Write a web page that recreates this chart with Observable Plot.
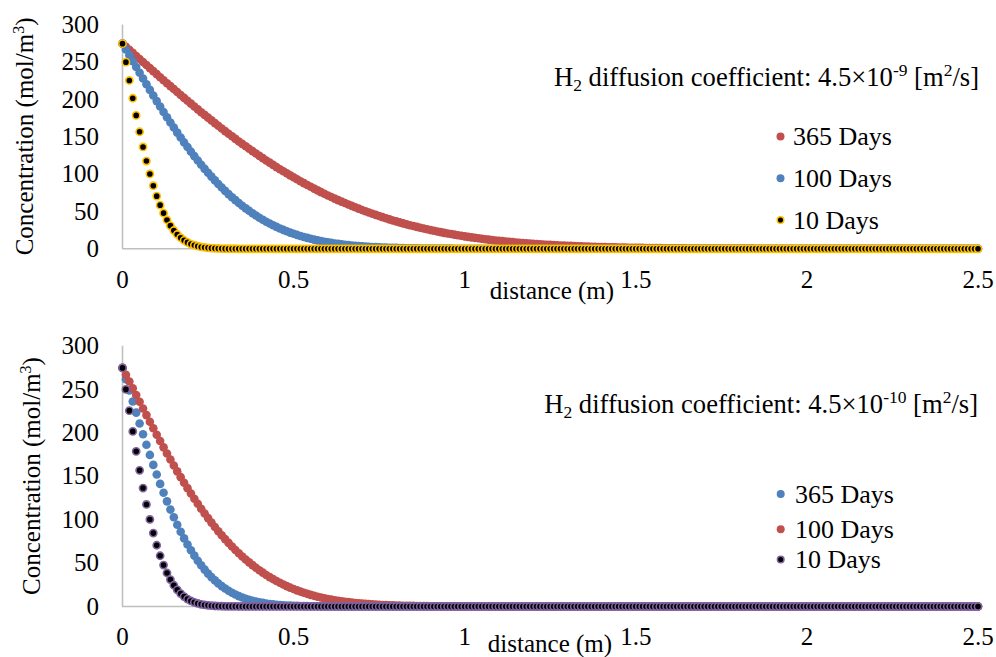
<!DOCTYPE html>
<html>
<head>
<meta charset="utf-8">
<script src="https://cdn.jsdelivr.net/npm/d3@7"></script>
<script src="https://cdn.jsdelivr.net/npm/@observablehq/plot@0.6"></script>
<style>
  html, body { margin: 0; padding: 0; background: #fff; }
  #wrap { position: relative; width: 996px; height: 657px; overflow: hidden; background: #fff; }
  .panel { position: absolute; left: 0; }
  #overlay { position: absolute; left: 0; top: 0; pointer-events: none; }
  #wrap text { font-family: 'Liberation Serif', 'Times New Roman', serif; }
</style>
</head>
<body>
<div id="wrap">
  <div class="panel" id="p1" style="top:0px"></div>
  <div class="panel" id="p2" style="top:320px"></div>
</div>
<script>
// ---------- data ----------
const distance = [
0,0.01,0.02,0.03,0.04,0.05,0.06,0.07,0.08,0.09,
0.1,0.11,0.12,0.13,0.14,0.15,0.16,0.17,0.18,0.19,
0.2,0.21,0.22,0.23,0.24,0.25,0.26,0.27,0.28,0.29,
0.3,0.31,0.32,0.33,0.34,0.35,0.36,0.37,0.38,0.39,
0.4,0.41,0.42,0.43,0.44,0.45,0.46,0.47,0.48,0.49,
0.5,0.51,0.52,0.53,0.54,0.55,0.56,0.57,0.58,0.59,
0.6,0.61,0.62,0.63,0.64,0.65,0.66,0.67,0.68,0.69,
0.7,0.71,0.72,0.73,0.74,0.75,0.76,0.77,0.78,0.79,
0.8,0.81,0.82,0.83,0.84,0.85,0.86,0.87,0.88,0.89,
0.9,0.91,0.92,0.93,0.94,0.95,0.96,0.97,0.98,0.99,
1,1.01,1.02,1.03,1.04,1.05,1.06,1.07,1.08,1.09,
1.1,1.11,1.12,1.13,1.14,1.15,1.16,1.17,1.18,1.19,
1.2,1.21,1.22,1.23,1.24,1.25,1.26,1.27,1.28,1.29,
1.3,1.31,1.32,1.33,1.34,1.35,1.36,1.37,1.38,1.39,
1.4,1.41,1.42,1.43,1.44,1.45,1.46,1.47,1.48,1.49,
1.5,1.51,1.52,1.53,1.54,1.55,1.56,1.57,1.58,1.59,
1.6,1.61,1.62,1.63,1.64,1.65,1.66,1.67,1.68,1.69,
1.7,1.71,1.72,1.73,1.74,1.75,1.76,1.77,1.78,1.79,
1.8,1.81,1.82,1.83,1.84,1.85,1.86,1.87,1.88,1.89,
1.9,1.91,1.92,1.93,1.94,1.95,1.96,1.97,1.98,1.99,
2,2.01,2.02,2.03,2.04,2.05,2.06,2.07,2.08,2.09,
2.1,2.11,2.12,2.13,2.14,2.15,2.16,2.17,2.18,2.19,
2.2,2.21,2.22,2.23,2.24,2.25,2.26,2.27,2.28,2.29,
2.3,2.31,2.32,2.33,2.34,2.35,2.36,2.37,2.38,2.39,
2.4,2.41,2.42,2.43,2.44,2.45,2.46,2.47,2.48,2.49,
2.5
];

// Top panel (D = 4.5e-9)
const top365Days = [
275,270.9,266.8,262.7,258.5,254.5,250.4,246.3,242.2,238.2,
234.1,230.0,226.0,222.0,218.1,214.1,210.2,206.2,202.3,198.4,
194.6,190.7,186.9,183.1,179.5,175.8,172.1,168.5,164.9,161.3,
157.7,154.2,150.8,147.3,143.9,140.6,137.4,134.1,130.9,127.8,
124.6,121.5,118.4,115.5,112.5,109.5,106.7,104.0,101.2,98.4,
95.8,93.2,90.6,88.0,85.5,83.1,80.7,78.3,76.0,73.8,
71.5,69.4,67.3,65.3,63.2,61.3,59.4,57.5,55.6,53.8,
52.1,50.3,48.6,47.0,45.5,43.9,42.4,40.9,39.4,38.0,
36.7,35.4,34.1,32.8,31.6,30.5,29.4,28.2,27.2,26.2,
25.1,24.2,23.2,22.3,21.4,20.6,19.8,19.0,18.2,17.5,
16.7,16.0,15.3,14.7,14.1,13.4,12.8,12.3,11.8,11.2,
10.8,10.3,9.8,9.3,8.9,8.5,8.1,7.7,7.4,7.0,
6.7,6.4,6.1,5.8,5.5,5.2,5.0,4.8,4.5,4.3,
4.1,3.9,3.7,3.5,3.3,3.1,2.9,2.8,2.6,2.5,
2.3,2.2,2.1,2.0,1.9,1.8,1.7,1.6,1.5,1.4,
1.3,1.3,1.2,1.1,1.1,1.0,1.0,0.9,0.8,0.8,
0.7,0.7,0.7,0.6,0.6,0.5,0.5,0.5,0.4,0.4,
0.4,0.4,0.3,0.3,0.3,0.3,0.3,0.2,0.2,0.2,
0.2,0.2,0.2,0.2,0.2,0.1,0.1,0.1,0.1,0.1,
0.1,0.1,0.1,0.1,0.1,0.1,0,0,0,0,
0,0,0,0,0,0,0,0,0,0,
0,0,0,0,0,0,0,0,0,0,
0,0,0,0,0,0,0,0,0,0,
0,0,0,0,0,0,0,0,0,0,
0,0,0,0,0,0,0,0,0,0,
0
];
const top100Days = [
275,267.1,259.3,251.5,243.7,235.9,228.2,220.6,213.0,205.5,
198.0,190.7,183.4,176.4,169.4,162.5,155.7,149.1,142.6,136.4,
130.2,124.2,118.4,112.7,107.1,101.9,96.7,91.7,86.8,82.1,
77.6,73.3,69.1,65.2,61.4,57.7,54.2,50.9,47.7,44.6,
41.7,39.0,36.3,33.9,31.6,29.4,27.3,25.4,23.5,21.7,
20.1,18.6,17.2,15.8,14.6,13.4,12.3,11.3,10.4,9.4,
8.7,7.9,7.2,6.6,6.0,5.4,5.0,4.5,4.1,3.7,
3.4,3.0,2.7,2.4,2.2,2.0,1.8,1.6,1.4,1.3,
1.2,1.0,0.9,0.8,0.7,0.7,0.6,0.5,0.4,0.4,
0.3,0.3,0.3,0.2,0.2,0.2,0.2,0.1,0.1,0.1,
0.1,0.1,0.1,0,0,0,0,0,0,0,
0,0,0,0,0,0,0,0,0,0,
0,0,0,0,0,0,0,0,0,0,
0,0,0,0,0,0,0,0,0,0,
0,0,0,0,0,0,0,0,0,0,
0,0,0,0,0,0,0,0,0,0,
0,0,0,0,0,0,0,0,0,0,
0,0,0,0,0,0,0,0,0,0,
0,0,0,0,0,0,0,0,0,0,
0,0,0,0,0,0,0,0,0,0,
0,0,0,0,0,0,0,0,0,0,
0,0,0,0,0,0,0,0,0,0,
0,0,0,0,0,0,0,0,0,0,
0,0,0,0,0,0,0,0,0,0,
0,0,0,0,0,0,0,0,0,0,
0
];
const top10Days = [
275,250.2,225.7,201.8,178.8,156.9,136.5,117.6,100.3,84.6,
70.6,58.5,47.8,38.6,31.0,24.5,19.2,14.9,11.4,8.6,
6.4,4.8,3.5,2.5,1.8,1.3,0.9,0.6,0.4,0.3,
0.2,0.1,0.1,0.1,0,0,0,0,0,0,
0,0,0,0,0,0,0,0,0,0,
0,0,0,0,0,0,0,0,0,0,
0,0,0,0,0,0,0,0,0,0,
0,0,0,0,0,0,0,0,0,0,
0,0,0,0,0,0,0,0,0,0,
0,0,0,0,0,0,0,0,0,0,
0,0,0,0,0,0,0,0,0,0,
0,0,0,0,0,0,0,0,0,0,
0,0,0,0,0,0,0,0,0,0,
0,0,0,0,0,0,0,0,0,0,
0,0,0,0,0,0,0,0,0,0,
0,0,0,0,0,0,0,0,0,0,
0,0,0,0,0,0,0,0,0,0,
0,0,0,0,0,0,0,0,0,0,
0,0,0,0,0,0,0,0,0,0,
0,0,0,0,0,0,0,0,0,0,
0,0,0,0,0,0,0,0,0,0,
0,0,0,0,0,0,0,0,0,0,
0,0,0,0,0,0,0,0,0,0,
0,0,0,0,0,0,0,0,0,0,
0,0,0,0,0,0,0,0,0,0,
0
];

// Bottom panel (D = 4.5e-10)
const bottom365Days = [
275,262.0,249.0,236.2,223.4,210.9,198.5,186.4,174.7,163.2,
152.1,141.3,131.1,121.2,111.7,102.8,94.3,86.1,78.5,71.4,
64.8,58.6,52.8,47.5,42.5,37.9,33.8,30.1,26.6,23.5,
20.7,18.2,15.9,13.8,12.0,10.4,9.0,7.7,6.6,5.7,
4.9,4.2,3.5,2.9,2.4,2.1,1.8,1.5,1.2,1.0,
0.8,0.7,0.6,0.5,0.4,0.3,0.3,0.2,0.2,0.1,
0.1,0.1,0.1,0,0,0,0,0,0,0,
0,0,0,0,0,0,0,0,0,0,
0,0,0,0,0,0,0,0,0,0,
0,0,0,0,0,0,0,0,0,0,
0,0,0,0,0,0,0,0,0,0,
0,0,0,0,0,0,0,0,0,0,
0,0,0,0,0,0,0,0,0,0,
0,0,0,0,0,0,0,0,0,0,
0,0,0,0,0,0,0,0,0,0,
0,0,0,0,0,0,0,0,0,0,
0,0,0,0,0,0,0,0,0,0,
0,0,0,0,0,0,0,0,0,0,
0,0,0,0,0,0,0,0,0,0,
0,0,0,0,0,0,0,0,0,0,
0,0,0,0,0,0,0,0,0,0,
0,0,0,0,0,0,0,0,0,0,
0,0,0,0,0,0,0,0,0,0,
0,0,0,0,0,0,0,0,0,0,
0,0,0,0,0,0,0,0,0,0,
0
];
const bottom100Days = [
275,267.1,259.3,251.5,243.7,235.9,228.2,220.6,213.0,205.5,
198.0,190.7,183.4,176.4,169.4,162.5,155.7,149.1,142.6,136.4,
130.2,124.2,118.4,112.7,107.1,101.9,96.7,91.7,86.8,82.1,
77.6,73.3,69.1,65.2,61.4,57.7,54.2,50.9,47.7,44.6,
41.7,39.0,36.3,33.9,31.6,29.4,27.3,25.4,23.5,21.7,
20.1,18.6,17.2,15.8,14.6,13.4,12.3,11.3,10.4,9.4,
8.7,7.9,7.2,6.6,6.0,5.4,5.0,4.5,4.1,3.7,
3.4,3.0,2.7,2.4,2.2,2.0,1.8,1.6,1.4,1.3,
1.2,1.0,0.9,0.8,0.7,0.7,0.6,0.5,0.4,0.4,
0.3,0.3,0.3,0.2,0.2,0.2,0.2,0.1,0.1,0.1,
0.1,0.1,0.1,0,0,0,0,0,0,0,
0,0,0,0,0,0,0,0,0,0,
0,0,0,0,0,0,0,0,0,0,
0,0,0,0,0,0,0,0,0,0,
0,0,0,0,0,0,0,0,0,0,
0,0,0,0,0,0,0,0,0,0,
0,0,0,0,0,0,0,0,0,0,
0,0,0,0,0,0,0,0,0,0,
0,0,0,0,0,0,0,0,0,0,
0,0,0,0,0,0,0,0,0,0,
0,0,0,0,0,0,0,0,0,0,
0,0,0,0,0,0,0,0,0,0,
0,0,0,0,0,0,0,0,0,0,
0,0,0,0,0,0,0,0,0,0,
0,0,0,0,0,0,0,0,0,0,
0
];
const bottom10Days = [
275,250.2,225.7,201.8,178.8,156.9,136.5,117.6,100.3,84.6,
70.6,58.5,47.8,38.6,31.0,24.5,19.2,14.9,11.4,8.6,
6.4,4.8,3.5,2.5,1.8,1.3,0.9,0.6,0.4,0.3,
0.2,0.1,0.1,0.1,0,0,0,0,0,0,
0,0,0,0,0,0,0,0,0,0,
0,0,0,0,0,0,0,0,0,0,
0,0,0,0,0,0,0,0,0,0,
0,0,0,0,0,0,0,0,0,0,
0,0,0,0,0,0,0,0,0,0,
0,0,0,0,0,0,0,0,0,0,
0,0,0,0,0,0,0,0,0,0,
0,0,0,0,0,0,0,0,0,0,
0,0,0,0,0,0,0,0,0,0,
0,0,0,0,0,0,0,0,0,0,
0,0,0,0,0,0,0,0,0,0,
0,0,0,0,0,0,0,0,0,0,
0,0,0,0,0,0,0,0,0,0,
0,0,0,0,0,0,0,0,0,0,
0,0,0,0,0,0,0,0,0,0,
0,0,0,0,0,0,0,0,0,0,
0,0,0,0,0,0,0,0,0,0,
0,0,0,0,0,0,0,0,0,0,
0,0,0,0,0,0,0,0,0,0,
0,0,0,0,0,0,0,0,0,0,
0,0,0,0,0,0,0,0,0,0,
0
];

const xTicks = [0, 0.5, 1, 1.5, 2, 2.5];
const xTickLabels = ["0", "0.5", "1", "1.5", "2", "2.5"];
const yTicks = [0, 50, 100, 150, 200, 250, 300];
const yTickLabels = ["0", "50", "100", "150", "200", "250", "300"];

const topLegend = ["365 Days", "100 Days", "10 Days"];
const bottomLegend = ["365 Days", "100 Days", "10 Days"];

// ---------- styles ----------
const RED = "#C0504D", BLUE = "#4F81BD", GOLD = "#FFC000", PURPLE = "#8064A2", AXIS = "#BFBFBF";
const FONT = "'Liberation Serif', 'Times New Roman', serif";
const SOLID_R = 4.3, RING_R = 3.6, RING_W = 1.6;

[top365Days, top100Days, top10Days, bottom365Days, bottom100Days, bottom10Days].forEach((a, k) => {
  if (a.length !== distance.length) console.error("length mismatch in series " + k + ": " + a.length);
});

function panel(el, series, height, mt, mb) {
  const marks = [
    Plot.ruleY([0], {stroke: AXIS, strokeWidth: 1.6}),
    Plot.ruleX([0], {stroke: AXIS, strokeWidth: 1.6}),
    Plot.axisX({ticks: xTicks, tickFormat: d => xTickLabels[xTicks.indexOf(d)], tickSize: 0, tickPadding: 21, label: null, fontFamily: FONT}),
    Plot.axisY({ticks: yTicks, tickFormat: d => yTickLabels[yTicks.indexOf(d)], tickSize: 0, tickPadding: 23.5, label: null, fontFamily: FONT})
  ];
  for (const s of series) {
    const rows = distance.map((d, i) => ({d, c: s.values[i]}));
    const opts = {x: "d", y: "c", r: s.r, fill: s.fill};
    if (s.stroke) { opts.stroke = s.stroke; opts.strokeWidth = s.sw; }
    marks.push(Plot.dot(rows, opts));
  }
  const svg = Plot.plot({
    width: 996, height,
    marginLeft: 122, marginRight: 18.5, marginTop: mt, marginBottom: mb,
    x: {domain: [0, 2.5]},
    y: {domain: [0, 300]},
    style: {fontSize: "25px", fontFamily: FONT, color: "#000", background: "transparent", overflow: "visible"},
    marks
  });
  document.getElementById(el).appendChild(svg);
}

panel("p1", [
  {values: top365Days, fill: RED, r: SOLID_R},
  {values: top100Days, fill: BLUE, r: SOLID_R},
  {values: top10Days, fill: "#000", stroke: GOLD, sw: RING_W, r: RING_R}
], 300, 24.5, 51.7);

panel("p2", [
  {values: bottom365Days, fill: BLUE, r: SOLID_R},
  {values: bottom100Days, fill: RED, r: SOLID_R},
  {values: bottom10Days, fill: "#000", stroke: PURPLE, sw: RING_W, r: RING_R}
], 337, 25.7, 51);

// ---------- text overlay: axis titles, annotations, legends ----------
const ov = d3.select("#wrap").append("svg").attr("id", "overlay")
  .attr("width", 996).attr("height", 657)
  .style("font-family", FONT).style("fill", "#000");

function yTitle(x, y) {
  const t = ov.append("text").attr("transform", `translate(${x},${y}) rotate(-90)`)
    .attr("text-anchor", "middle").attr("font-size", 25);
  t.append("tspan").text("Concentration (mol/m");
  t.append("tspan").attr("font-size", 16).attr("dy", -9).text("3");
  t.append("tspan").attr("dy", 9).text(")");
}
function xTitle(x, y) {
  ov.append("text").attr("x", x).attr("y", y).attr("text-anchor", "middle")
    .attr("font-size", 25).text("distance (m)");
}
function note(x, y, exp) {
  const t = ov.append("text").attr("x", x).attr("y", y).attr("text-anchor", "end").attr("font-size", 26.6);
  t.append("tspan").text("H");
  t.append("tspan").attr("font-size", 17.5).attr("dy", 5).text("2");
  t.append("tspan").attr("dy", -5).text(" diffusion coefficient: 4.5×10");
  t.append("tspan").attr("font-size", 17.5).attr("dy", -10).text(exp);
  t.append("tspan").attr("dy", 10).text(" [m");
  t.append("tspan").attr("font-size", 17.5).attr("dy", -10).text("2");
  t.append("tspan").attr("dy", 10).text("/s]");
}
function legend(labels, styles, mx, tx, ys) {
  labels.forEach((lab, i) => {
    const s = styles[i];
    const c = ov.append("circle").attr("cx", mx).attr("cy", ys[i]).attr("r", s.r).attr("fill", s.fill);
    if (s.stroke) c.attr("stroke", s.stroke).attr("stroke-width", s.sw);
    ov.append("text").attr("x", tx).attr("y", ys[i]).attr("dy", "0.33em")
      .attr("font-size", 26).text(lab);
  });
}

yTitle(33, 136.4);
xTitle(552, 299);
note(979, 86, "-9");
legend(topLegend, [
  {fill: RED, r: 4}, {fill: BLUE, r: 4}, {fill: "#000", stroke: GOLD, sw: 1.5, r: 3.3}
], 780.5, 793, [136.5, 178.3, 220]);

yTitle(40, 476);
xTitle(550, 652);
note(978, 413, "-10");
legend(bottomLegend, [
  {fill: BLUE, r: 4}, {fill: RED, r: 4}, {fill: "#000", stroke: PURPLE, sw: 1.5, r: 3.3}
], 780.7, 795, [494, 529.3, 559.5]);
</script>
</body>
</html>
